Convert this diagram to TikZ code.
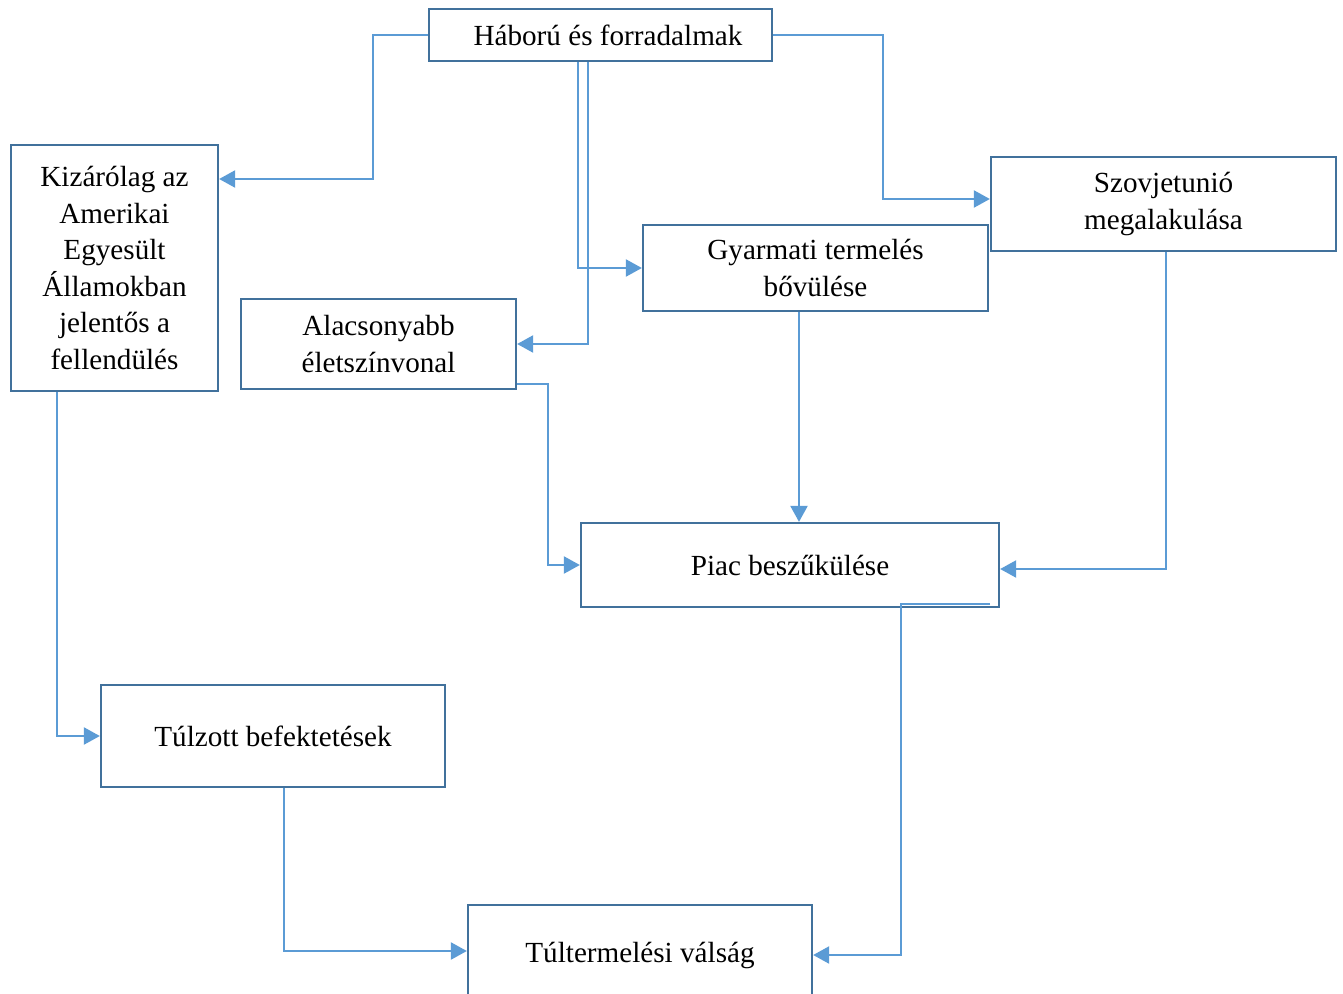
\documentclass[tikz,border=0pt]{standalone}
\usepackage{fontspec}
\setmainfont{Liberation Serif}
\usetikzlibrary{arrows.meta,calc}
\definecolor{BoxClr}{RGB}{65,113,156}
\definecolor{LineClr}{RGB}{91,155,213}

\begin{document}
\begin{tikzpicture}[x=0.2mm,y=-0.2mm,
  box/.style={draw=BoxClr,line width=1.3pt,fill=white,align=center,inner sep=0pt,
    font=\fontsize{16.6}{20.8}\selectfont},
  conn/.style={draw=LineClr,line width=1.3pt,-{Triangle[length=3.2mm,width=3.4mm]}}]
\useasboundingbox (0,0) rectangle (1343,993);

\node[box,minimum width=68.6mm,minimum height=10.4mm] (hab) at (600.5,35) {\hspace{3mm}Háború és forradalmak};
\node[box,minimum width=41.4mm,minimum height=49.2mm] (kiz) at (114.5,268)
  {Kizárólag az\\Amerikai\\Egyesült\\Államokban\\jelentős a\\fellendülés};
\node[box,minimum width=69mm,minimum height=18.8mm] (szov) at (1163.5,204) {Szovjetunió\\megalakulása};
\node[box,minimum width=69mm,minimum height=17.2mm] (gyar) at (815.5,268) {Gyarmati termelés\\bővülése};
\node[box,minimum width=55mm,minimum height=18mm] (alac) at (378.5,344) {Alacsonyabb\\életszínvonal};
\node[box,minimum width=83.6mm,minimum height=16.8mm] (piac) at (790,565) {Piac beszűkülése};
\node[box,minimum width=68.8mm,minimum height=20.4mm] (tulz) at (273,736) {Túlzott befektetések};
\node[box,minimum width=68.8mm,minimum height=20mm] (tult) at (640,955) {Túltermelési válság};

\draw[conn] (hab.west) -- (373,35) |- (kiz.east |- 0,179);
\draw[conn] (hab.east) -- (883,35) |- (szov.west |- 0,199);
\draw[conn] (hab.south -| 578,0) |- (gyar.west);
\draw[conn] (hab.south -| 588,0) |- (alac.east);
\draw[conn] (gyar.south -| 799,0) -- (piac.north -| 799,0);
\draw[conn] (szov.south -| 1166,0) |- (piac.east |- 0,569);
\draw[conn] (alac.east |- 0,384) -- (548,384) |- (piac.west);
\draw[conn] (kiz.south -| 57,0) |- (tulz.west);
\draw[conn] ($(piac.south -| 990,0)+(0,-4)$) -| (tult.east -| 901,0) -- (tult.east);
\draw[conn] (tulz.south -| 284,0) |- (tult.west |- 0,951);

\end{tikzpicture}
\end{document}
